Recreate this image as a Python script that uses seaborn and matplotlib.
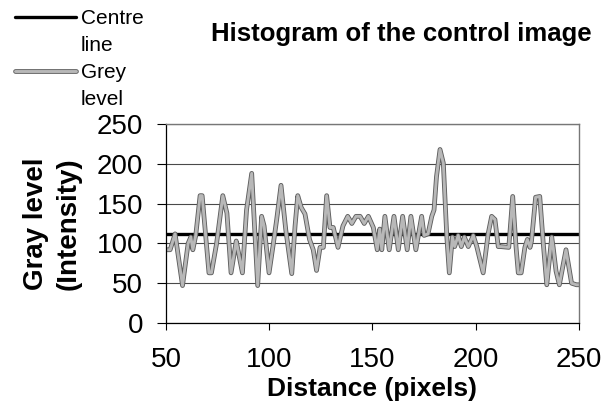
import seaborn as sns
import matplotlib.pyplot as plt
import matplotlib.patheffects as pe
from matplotlib.lines import Line2D

# profile (distance in pixels, grey level)
distance = [50, 52, 54.4, 58, 60.7, 62, 63, 64.4, 66.5, 67.5, 70.8, 72, 74.5, 77.5, 79.5,
            81.5, 84, 85, 87, 89, 91.5, 94.4, 96.3, 97.5, 99.9, 102, 103.6, 105.7, 108,
            110.9, 112.5, 113.8, 115.5, 117.3, 119.5, 121.3, 122.9, 124.6, 126.2, 127.8,
            129.4, 131, 133.3, 135.7, 138, 140, 142, 144, 146, 148, 150.4, 152.3, 153.5,
            154.5, 156, 158.1, 160.4, 162.5, 164.6, 166.8, 168.6, 171, 173.8, 175, 176.9,
            178.7, 179.8, 181, 182.7, 184.3, 186, 187.2, 188.7, 189.8, 191.5, 193, 194.5,
            196.4, 198.8, 200.5, 203.6, 206, 207.7, 209.3, 210.9, 212, 216, 217.9, 219.5,
            220.6, 222, 223.8, 225, 226.3, 227, 229, 231, 232.7, 234.4, 236.8, 237.5,
            238.9, 240.5, 243.7, 246.4, 248.8, 250]
grey_level = [92, 92, 112, 47, 100, 108, 92, 110, 160, 160, 63, 63, 100, 160, 138,
              63, 103, 90, 63, 142, 188, 47, 134, 122, 63, 100, 130, 173, 117,
              62, 122, 160, 145, 137, 105, 92, 66, 95, 95, 160,
              120, 120, 95, 122, 134, 125, 134, 134, 125, 134, 120, 92, 118,
              92, 134, 92, 134, 92, 134, 92, 134, 92, 134, 110, 112,
              134, 142, 184, 218, 201, 108, 63, 108, 96, 110, 96, 108,
              96, 110, 96, 63, 112, 134, 130, 96, 96, 95, 159, 96,
              63, 63, 95, 105, 95, 103, 158, 159, 100, 48, 108, 95,
              65, 48, 92, 50, 48, 48]
centre_line = [112] * len(distance)

sns.set_style("white")
plt.rcParams['font.family'] = ['Liberation Sans', 'DejaVu Sans']
plt.rcParams.update({'text.color': 'black', 'axes.labelcolor': 'black',
                     'xtick.color': 'black', 'ytick.color': 'black'})

fig = plt.figure(figsize=(6.11, 4.09), dpi=100)
ax = fig.add_axes([0.2717, 0.2103, 0.9476 - 0.2717, 0.6968 - 0.2103])

grey_fx = [pe.Stroke(linewidth=3.4, foreground='#5e5e5e'), pe.Normal()]
sns.lineplot(x=distance, y=centre_line, ax=ax, color='black', linewidth=2.4,
             estimator=None)
sns.lineplot(x=distance, y=grey_level, ax=ax, color='#b8b8b8', linewidth=2.1,
             sort=False, estimator=None, path_effects=grey_fx)

ax.set_xlim(50, 250)
ax.set_ylim(0, 250)
ax.set_xticks([50, 100, 150, 200, 250])
ax.set_yticks([0, 50, 100, 150, 200, 250])
ax.yaxis.grid(True, color='#4a4a4a', linewidth=0.8)
ax.set_axisbelow(True)
for side in ['top', 'right']:
    ax.spines[side].set_color('#777777')
    ax.spines[side].set_linewidth(1.0)
for side in ['left', 'bottom']:
    ax.spines[side].set_color('black')
    ax.spines[side].set_linewidth(0.9)

ax.tick_params(axis='y', direction='out', length=6.5, width=0.8, pad=10, labelsize=20,
               left=True, colors='black')
ax.tick_params(axis='x', direction='out', length=5, width=0.8, pad=12, labelsize=20,
               bottom=True, colors='black')

ax.set_xlabel('Distance (pixels)', fontsize=19, fontweight='bold', color='black')
ax.xaxis.set_label_coords(0.5, -0.27)
ax.set_ylabel('Gray level\n(Intensity)', fontsize=20, fontweight='bold', multialignment='center',
              linespacing=1.3, color='black')
ax.yaxis.set_label_coords(-0.205, 0.5)

fig.text(0.656, 0.917, 'Histogram of the control image', ha='center', va='center',
         fontsize=18.5, fontweight='bold', color='black')

# legend with two-line labels, handle next to the first line
blank = Line2D([], [], alpha=0)
handles = [Line2D([], [], color='black', linewidth=2.4), blank,
           Line2D([], [], color='#b8b8b8', linewidth=2.1, path_effects=grey_fx), blank]
labels = ['Centre', 'line', 'Grey', 'level']
leg = fig.legend(handles, labels, loc='upper left', bbox_to_anchor=(0.02, 0.985), frameon=False,
                 fontsize=15, handlelength=2.9, handletextpad=0.25, labelspacing=0.38,
                 borderaxespad=0.0, borderpad=0.15)
for t in leg.get_texts():
    t.set_color('black')

fig.savefig('out.png', dpi=100)
